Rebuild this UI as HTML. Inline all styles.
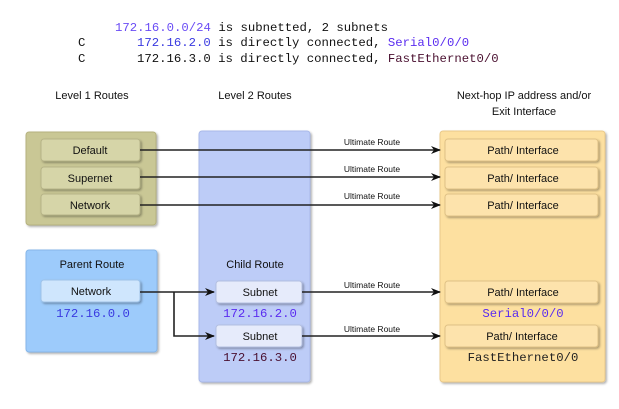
<!DOCTYPE html>
<html><head><meta charset="utf-8"><style>
html,body{margin:0;padding:0;background:#fff;width:619px;height:409px;overflow:hidden}
svg{display:block}
.m{font-family:"Liberation Mono",monospace;font-size:12.3px}
.s{font-family:"Liberation Sans",sans-serif}
</style></head><body>
<svg width="619" height="409" viewBox="0 0 619 409" xmlns="http://www.w3.org/2000/svg">
<defs>
<marker id="a" markerWidth="10" markerHeight="8" refX="9" refY="4" orient="auto" markerUnits="userSpaceOnUse">
<path d="M0,0 L10,4 L0,8 L3,4 Z" fill="#111"/></marker>
<filter id="sh" x="-10%" y="-10%" width="130%" height="130%"><feDropShadow dx="1.5" dy="1.5" stdDeviation="1" flood-color="#000" flood-opacity="0.3"/></filter>
</defs>
<!-- code -->
<text class="m" x="115" y="31" fill="#111"><tspan fill="#6a4cf5">172.16.0.0/24</tspan> is subnetted, 2 subnets</text>
<text class="m" x="78" y="46" fill="#111">C</text>
<text class="m" x="137" y="46" fill="#111"><tspan fill="#3a3ae0">172.16.2.0</tspan> is directly connected, <tspan fill="#5a2cf0">Serial0/0/0</tspan></text>
<text class="m" x="78" y="62" fill="#111">C</text>
<text class="m" x="137" y="62" fill="#111">172.16.3.0 is directly connected, <tspan fill="#4a1030">FastEthernet0/0</tspan></text>
<!-- headers -->
<g class="s" font-size="11" fill="#111" text-anchor="middle">
<text x="92" y="99">Level 1 Routes</text>
<text x="255" y="99">Level 2 Routes</text>
<text x="524" y="99">Next-hop IP address and/or</text>
<text x="524" y="115">Exit Interface</text>
</g>
<!-- boxes -->
<rect x="26" y="132" width="130" height="93" rx="3" fill="#c9c795" stroke="#b5b27e" filter="url(#sh)"/>
<rect x="26" y="250" width="131" height="102" rx="3" fill="#9dcbfb" stroke="#86b6e8" filter="url(#sh)"/>
<rect x="199" y="131" width="111" height="251" rx="3" fill="#bdccf7" stroke="#a9b9e8" filter="url(#sh)"/>
<rect x="440" y="131" width="165" height="251" rx="3" fill="#fde0a0" stroke="#e9c98a" filter="url(#sh)"/>
<!-- buttons -->
<g filter="url(#sh)">
<rect x="41" y="139" width="99" height="22" rx="3" fill="#d6d5a8" stroke="#b6b487"/>
<rect x="41" y="167" width="99" height="22" rx="3" fill="#d6d5a8" stroke="#b6b487"/>
<rect x="41" y="194" width="99" height="21" rx="3" fill="#d6d5a8" stroke="#b6b487"/>
<rect x="41" y="280" width="99" height="22" rx="3" fill="#cfe6fd" stroke="#9fc3e8"/>
<rect x="216" y="281" width="86" height="22" rx="3" fill="#e6ebfb" stroke="#b3bfe0"/>
<rect x="216" y="325" width="86" height="22" rx="3" fill="#e6ebfb" stroke="#b3bfe0"/>
<rect x="445" y="139" width="153" height="22" rx="3" fill="#fde3ac" stroke="#e0c286"/>
<rect x="445" y="167" width="153" height="22" rx="3" fill="#fde3ac" stroke="#e0c286"/>
<rect x="445" y="194" width="153" height="22" rx="3" fill="#fde3ac" stroke="#e0c286"/>
<rect x="445" y="281" width="153" height="22" rx="3" fill="#fde3ac" stroke="#e0c286"/>
<rect x="445" y="325" width="153" height="22" rx="3" fill="#fde3ac" stroke="#e0c286"/>
</g>
<g class="s" font-size="11" fill="#111" text-anchor="middle">
<text x="90" y="154">Default</text>
<text x="90" y="182">Supernet</text>
<text x="90" y="209">Network</text>
<text x="92" y="268">Parent Route</text>
<text x="91" y="295">Network</text>
<text x="255" y="268">Child Route</text>
<text x="260" y="296">Subnet</text>
<text x="260" y="340">Subnet</text>
<text x="523" y="154">Path/ Interface</text>
<text x="523" y="182">Path/ Interface</text>
<text x="523" y="209">Path/ Interface</text>
<text x="523" y="296">Path/ Interface</text>
<text x="522" y="340">Path/ Interface</text>
</g>
<g class="m" font-size="12" text-anchor="middle">
<text x="93" y="317" fill="#3a3ae0">172.16.0.0</text>
<text x="260" y="317" fill="#5a2cf0">172.16.2.0</text>
<text x="260" y="361" fill="#4a1030">172.16.3.0</text>
<text x="523" y="317" fill="#5a2cf0">Serial0/0/0</text>
<text x="523" y="361" fill="#222">FastEthernet0/0</text>
</g>
<g class="s" font-size="8.5" fill="#111" text-anchor="middle">
<text x="372" y="145">Ultimate Route</text>
<text x="372" y="172">Ultimate Route</text>
<text x="372" y="199">Ultimate Route</text>
<text x="372" y="288">Ultimate Route</text>
<text x="372" y="332">Ultimate Route</text>
</g>
<!-- lines -->
<g stroke="#222" stroke-width="1.6" fill="none">
<line x1="140" y1="150" x2="440" y2="150" marker-end="url(#a)"/>
<line x1="140" y1="177" x2="440" y2="177" marker-end="url(#a)"/>
<line x1="140" y1="205" x2="440" y2="205" marker-end="url(#a)"/>
<line x1="302" y1="292" x2="440" y2="292" marker-end="url(#a)"/>
<line x1="302" y1="336" x2="440" y2="336" marker-end="url(#a)"/>
<line x1="140" y1="292" x2="214" y2="292" marker-end="url(#a)"/>
<polyline points="174,292 174,336 214,336" marker-end="url(#a)"/>
</g>
</svg>
</body></html>
